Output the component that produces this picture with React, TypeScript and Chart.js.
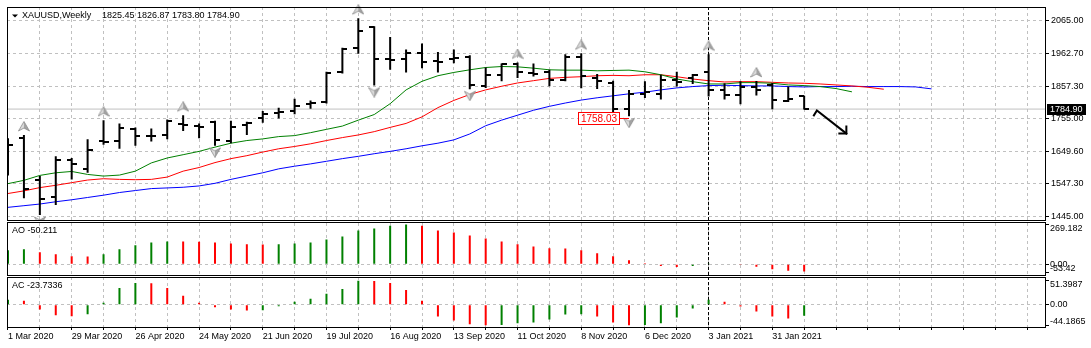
import { useEffect, useRef } from 'react';
import { Chart, registerables } from 'chart.js';

Chart.register(...registerables);

const FONT_FAMILY = '"Liberation Sans", Arial, sans-serif';
Chart.defaults.font.family = FONT_FAMILY;
Chart.defaults.font.size = 9;
Chart.defaults.color = '#000';

// ---------------- data ----------------
const symbol = 'XAUUSD,Weekly';

const weeks = ['1 Mar 2020', '8 Mar 2020', '15 Mar 2020', '22 Mar 2020', '29 Mar 2020', '5 Apr 2020', '12 Apr 2020', '19 Apr 2020', '26 Apr 2020', '3 May 2020', '10 May 2020', '17 May 2020', '24 May 2020', '31 May 2020', '7 Jun 2020', '14 Jun 2020', '21 Jun 2020', '28 Jun 2020', '5 Jul 2020', '12 Jul 2020', '19 Jul 2020', '26 Jul 2020', '2 Aug 2020', '9 Aug 2020', '16 Aug 2020', '23 Aug 2020', '30 Aug 2020', '6 Sep 2020', '13 Sep 2020', '20 Sep 2020', '27 Sep 2020', '4 Oct 2020', '11 Oct 2020', '18 Oct 2020', '25 Oct 2020', '1 Nov 2020', '8 Nov 2020', '15 Nov 2020', '22 Nov 2020', '29 Nov 2020', '6 Dec 2020', '13 Dec 2020', '20 Dec 2020', '27 Dec 2020', '3 Jan 2021', '10 Jan 2021', '17 Jan 2021', '24 Jan 2021', '31 Jan 2021', '7 Feb 2021', '14 Feb 2021'];

const opens = [1586.0, 1692.4, 1560.0, 1506.7, 1624.6, 1595.3, 1684.0, 1684.0, 1722.7, 1700.0, 1702.8, 1737.3, 1731.0, 1743.5, 1685.2, 1734.0, 1755.1, 1772.0, 1779.0, 1802.0, 1806.2, 1901.1, 1979.4, 2044.1, 1944.0, 1942.9, 1961.7, 1936.0, 1945.0, 1951.2, 1859.4, 1892.8, 1929.3, 1899.0, 1901.0, 1877.1, 1950.2, 1884.4, 1868.8, 1786.0, 1834.0, 1833.4, 1876.0, 1883.5, 1903.2, 1847.0, 1830.2, 1854.2, 1861.5, 1812.0, 1825.45];
const highs = [1692.4, 1702.8, 1572.4, 1635.0, 1629.8, 1689.3, 1749.8, 1739.4, 1726.8, 1723.7, 1751.9, 1765.5, 1739.4, 1747.7, 1747.7, 1744.6, 1779.0, 1789.5, 1817.6, 1812.4, 1903.2, 1979.4, 2073.4, 2047.3, 2013.9, 1974.2, 1993.0, 1965.8, 1974.2, 1955.4, 1916.8, 1929.3, 1932.5, 1929.3, 1909.5, 1958.5, 1961.7, 1895.9, 1875.0, 1845.8, 1873.0, 1893.8, 1903.2, 1895.9, 1958.5, 1866.7, 1873.0, 1874.0, 1867.7, 1856.3, 1826.87];
const lows = [1574.5, 1502.4, 1449.2, 1480.5, 1561.9, 1582.8, 1671.5, 1659.0, 1668.4, 1682.0, 1689.3, 1715.4, 1692.4, 1668.4, 1676.7, 1702.8, 1741.4, 1755.1, 1768.6, 1786.3, 1803.0, 1898.0, 1960.6, 1859.4, 1909.5, 1901.0, 1914.7, 1901.0, 1930.4, 1847.9, 1852.1, 1873.0, 1883.4, 1888.6, 1857.3, 1873.0, 1851.0, 1849.0, 1770.7, 1762.3, 1819.7, 1815.6, 1856.3, 1864.6, 1824.9, 1815.6, 1799.9, 1828.1, 1784.2, 1807.2, 1783.8];
const closes = [1671.5, 1530.6, 1499.4, 1622.4, 1611.0, 1653.9, 1682.0, 1723.7, 1699.7, 1698.0, 1747.8, 1733.0, 1729.0, 1687.2, 1729.0, 1741.4, 1770.8, 1775.0, 1794.7, 1804.0, 1898.0, 1976.3, 2033.7, 1945.0, 1942.0, 1961.7, 1935.6, 1934.0, 1947.0, 1862.5, 1892.8, 1927.3, 1901.0, 1897.0, 1877.1, 1950.2, 1888.6, 1873.0, 1786.3, 1833.4, 1838.0, 1878.3, 1872.0, 1893.8, 1846.9, 1830.2, 1854.2, 1845.8, 1812.4, 1817.6, 1784.9];

// Alligator lines (they run past the last bar)
const jaw = [1473.2, 1478.4, 1483.7, 1490.9, 1497.2, 1504.5, 1511.8, 1520.2, 1526.5, 1532.7, 1534.8, 1536.9, 1541.1, 1549.4, 1561.9, 1572.4, 1582.8, 1595.3, 1603.7, 1611.0, 1619.3, 1627.7, 1635.0, 1643.3, 1650.7, 1659.0, 1668.4, 1676.7, 1687.2, 1706.0, 1732.1, 1749.8, 1765.5, 1781.1, 1793.6, 1804.1, 1813.5, 1820.8, 1827.0, 1833.3, 1838.5, 1845.8, 1852.1, 1856.3, 1859.4, 1860.4, 1859.4, 1858.4, 1858.4, 1856.3, 1855.2, 1856.3, 1856.3, 1857.3, 1856.3, 1856.3, 1856.3, 1855.2, 1849.0];
const teeth = [1517.1, 1525.4, 1535.8, 1543.1, 1551.5, 1559.8, 1564.0, 1561.9, 1560.9, 1561.9, 1569.2, 1588.0, 1599.5, 1615.2, 1627.7, 1637.1, 1648.6, 1659.0, 1666.3, 1674.7, 1685.1, 1694.5, 1702.8, 1713.3, 1726.8, 1739.4, 1760.2, 1789.5, 1812.4, 1831.2, 1845.8, 1857.3, 1867.7, 1875.0, 1882.3, 1885.5, 1887.6, 1890.7, 1891.8, 1890.7, 1893.8, 1893.8, 1887.6, 1880.3, 1875.0, 1870.9, 1871.9, 1871.9, 1869.8, 1867.7, 1866.7, 1864.6, 1861.5, 1858.3, 1854.2, 1847.9];
const lips = [1548.4, 1558.8, 1574.5, 1582.8, 1587.0, 1577.6, 1572.4, 1575.5, 1588.0, 1614.1, 1629.8, 1640.2, 1650.7, 1664.2, 1676.7, 1685.1, 1690.3, 1697.6, 1700.8, 1710.1, 1720.6, 1731.0, 1749.8, 1767.6, 1802.0, 1845.8, 1873.0, 1890.7, 1901.1, 1909.5, 1916.8, 1919.9, 1918.9, 1914.7, 1909.5, 1908.4, 1908.4, 1906.4, 1907.4, 1908.4, 1903.2, 1893.8, 1880.3, 1871.9, 1864.6, 1864.6, 1868.8, 1868.8, 1866.7, 1861.5, 1859.4, 1856.3, 1850.0, 1839.6];

const ao = [94, 101, 81, 67, 54, 52, 67, 101, 128, 148, 155, 154, 152, 147, 141, 135, 134, 136, 141, 148, 168, 188, 229, 242, 262, 269.182, 262, 229, 215, 195, 175, 155, 135, 121, 108, 106, 94, 74, 54, 27, 7, -13, -20, -13, 5, 3, -2, -18, -34, -45, -50.211];
const aoColors = 'GGRRRRGGGGGRRRRRRGGGGGGGGGRRRRRRRRRRRRRRRRRGGRRRRRR';
const ac = [10.6, 8.5, -10.6, -22.6, -24.7, -20.4, 4.2, 36.0, 46.5, 46.0, 36.0, 19.0, 4.2, -5.6, -10.6, -12.7, -12.2, -3.5, 6.3, 12.7, 23.3, 33.8, 51.3987, 51.0, 46.5, 31.7, 8.5, -25.4, -33.8, -42.3, -44.1865, -43.6, -40.2, -38.1, -31.7, -21.2, -20.8, -25.4, -38.1, -44.0, -43.5, -40.2, -27.5, -8.5, 10.6, 6.3, -4.2, -14.8, -25.4, -29.6, -23.7336];
const acColors = 'GRRRRGGGGRRRRRRRGGGGGGGRRRRRRRRGGGGGGRRRGGGGGRRRRRG';

const fractalsUp = [1, 6, 11, 22, 32, 36, 44, 47];
const fractalsDown = [2, 13, 23, 29, 39];

const priceTicks = [2065.0, 1962.7, 1857.3, 1755.0, 1649.6, 1547.3, 1445.0];
const aoScaleLabels = [269.182, 0, -53.42];
const acScaleLabels = [51.3987, 0, -44.1865];

const separatorBar = 44;
const priceMark = { bar: 39, price: 1758.03 };
const arrowPath = [{ x: 50.8, y: 1780.8 }, { x: 52.65, y: 1707.4 }];

// visible ranges of the panes
const X_RANGE = { min: -0.0625, max: 65.1875 };
const PRICE_RANGE = { min: 1432.51, max: 2108.73 };
const AO_RANGE = { min: -79.0, max: 299.3 };
const AC_RANGE = { min: -48.0, max: 61.97 };

const GREEN = '#008000';
const RED = '#ff0000';
const BLUE = '#0000ff';
const GRID = '#c0c0c0';

const pts = (arr: number[]) => arr.map((v, i) => ({ x: i, y: v }));
const gridBars = Array.from({ length: 33 }, (_, k) => k * 2);

const fmtScale = (v: number) => (v === 0 ? '0.00' : String(v));

const overlay = {
  id: 'mt4overlay',
  beforeDatasetsDraw(chart: any) {
    const { ctx, chartArea, scales } = chart;
    const x = Math.floor(scales.x.getPixelForValue(separatorBar)) + 0.5;
    ctx.save();
    ctx.strokeStyle = '#000';
    ctx.lineWidth = 1;
    ctx.setLineDash([3, 2]);
    ctx.beginPath();
    ctx.moveTo(x, chartArea.top);
    ctx.lineTo(x, chartArea.bottom);
    ctx.stroke();
    ctx.restore();
  },
  afterDraw(chart: any) {
    const { ctx, chartArea, scales } = chart;
    const xs = scales.x;
    const ys = scales.y;
    const yao = scales.ao;
    const yac = scales.ac;
    const n = closes.length - 1;
    ctx.save();

    // pane frames
    ctx.setLineDash([]);
    ctx.strokeStyle = '#000';
    ctx.lineWidth = 1;
    const L = chartArea.left + 0.5;
    const R = chartArea.right - 0.5;
    const frame = (t: number, b: number) => ctx.strokeRect(L, t, R - L, b - t);
    const mainTop = Math.round(ys.top) + 0.5;
    const mainBottom = Math.floor(ys.bottom) + 0.5;
    const aoTop = Math.floor(yao.top) + 2.5;
    const aoBottom = Math.round(yao.bottom) - 0.5;
    const acTop = Math.round(yac.top) + 1.5;
    const acBottom = Math.round(yac.bottom) + 0.5;
    frame(mainTop, mainBottom);
    frame(aoTop, aoBottom);
    frame(acTop, acBottom);

    // header
    ctx.fillStyle = '#000';
    ctx.beginPath();
    ctx.moveTo(chartArea.left + 5, mainTop + 7);
    ctx.lineTo(chartArea.left + 11, mainTop + 7);
    ctx.lineTo(chartArea.left + 8, mainTop + 10);
    ctx.closePath();
    ctx.fill();
    ctx.font = `9px ${FONT_FAMILY}`;
    ctx.textAlign = 'left';
    ctx.textBaseline = 'middle';
    ctx.fillText(symbol, chartArea.left + 15, mainTop + 8.5);
    ctx.fillText(
      [opens[n], highs[n], lows[n], closes[n]].map((v) => v.toFixed(2)).join(' '),
      chartArea.left + 95,
      mainTop + 8.5
    );

    // indicator names
    ctx.fillText(`AO ${ao[ao.length - 1]}`, chartArea.left + 5, aoTop + 8.5);
    ctx.fillText(`AC ${ac[ac.length - 1]}`, chartArea.left + 5, acTop + 8.5);

    // indicator scale labels
    const lx = chartArea.right + 4;
    const paneLabels = (scale: any, vals: number[]) => {
      const [mx, zero, mn] = vals;
      ctx.textBaseline = 'top';
      ctx.fillText(fmtScale(mx), lx, scale.getPixelForValue(mx) - 1);
      ctx.textBaseline = 'bottom';
      ctx.fillText(fmtScale(mn), lx, scale.getPixelForValue(mn) + 1);
      ctx.textBaseline = 'middle';
      ctx.fillText(fmtScale(zero), lx, scale.getPixelForValue(zero));
    };
    paneLabels(yao, aoScaleLabels);
    paneLabels(yac, acScaleLabels);

    // current price box
    const yc = ys.getPixelForValue(closes[n]);
    ctx.fillStyle = '#000';
    ctx.fillRect(chartArea.right + 1, Math.round(yc) - 5, 39, 11);
    ctx.fillStyle = '#fff';
    ctx.textBaseline = 'middle';
    ctx.fillText(closes[n].toFixed(2), chartArea.right + 4, Math.round(yc) + 0.5);

    // price mark label
    const px = xs.getPixelForValue(priceMark.bar);
    const py = Math.round(ys.getPixelForValue(priceMark.price));
    const bw = 41;
    const bRight = Math.round(px) - 10;
    const bLeft = bRight - bw;
    ctx.fillStyle = '#fff';
    ctx.fillRect(bLeft, py - 5, bw, 12);
    ctx.strokeStyle = RED;
    ctx.strokeRect(bLeft + 0.5, py - 5.5, bw, 12);
    ctx.beginPath();
    ctx.moveTo(bRight, py + 0.5);
    ctx.lineTo(px, py + 0.5);
    ctx.stroke();
    ctx.fillStyle = RED;
    ctx.font = `10px ${FONT_FAMILY}`;
    ctx.textAlign = 'center';
    ctx.fillText(priceMark.price.toFixed(2), bLeft + bw / 2 + 0.5, py + 1);

    // trend arrow
    const a0x = xs.getPixelForValue(arrowPath[0].x);
    const a0y = ys.getPixelForValue(arrowPath[0].y);
    const a1x = xs.getPixelForValue(arrowPath[1].x);
    const a1y = ys.getPixelForValue(arrowPath[1].y);
    ctx.strokeStyle = '#000';
    ctx.lineWidth = 2;
    ctx.lineCap = 'square';
    ctx.beginPath();
    ctx.moveTo(a0x - 3, a0y + 5);
    ctx.lineTo(a0x, a0y);
    ctx.lineTo(a1x, a1y);
    ctx.stroke();
    ctx.beginPath();
    ctx.moveTo(a1x - 7, a1y);
    ctx.lineTo(a1x, a1y);
    ctx.lineTo(a1x, a1y - 7);
    ctx.stroke();

    ctx.restore();
  },
};

export default function App() {
  const canvasRef = useRef<HTMLCanvasElement | null>(null);

  useEffect(() => {
    const prevMargin = document.body.style.margin;
    document.body.style.margin = '0';
    const canvas = canvasRef.current;
    if (!canvas) return;

    const mk = (w: number, h: number, draw: (g: CanvasRenderingContext2D) => void) => {
      const c = document.createElement('canvas');
      c.width = w;
      c.height = h;
      const g = c.getContext('2d');
      if (g) draw(g);
      return c;
    };
    const openTick = mk(10, 2, (g) => {
      g.fillStyle = '#000';
      g.fillRect(0, 0, 5, 2);
    });
    const closeTick = mk(10, 2, (g) => {
      g.fillStyle = '#000';
      g.fillRect(5, 0, 5, 2);
    });
    const chevron = (g: CanvasRenderingContext2D, p: number[][]) => {
      const path = () => {
        g.beginPath();
        g.moveTo(p[0][0], p[0][1]);
        for (let i = 1; i < p.length; i++) g.lineTo(p[i][0], p[i][1]);
        g.closePath();
      };
      path();
      g.fillStyle = '#dcdcdc';
      g.fill();
      g.beginPath();
      g.moveTo(p[0][0], p[0][1]);
      g.lineTo(p[1][0], p[1][1]);
      g.lineTo(p[2][0], p[2][1]);
      g.closePath();
      g.fillStyle = '#a4a4a4';
      g.fill();
      path();
      g.strokeStyle = '#8a8a8a';
      g.lineWidth = 0.8;
      g.stroke();
    };
    const upArrow = mk(12, 28, (g) => chevron(g, [[6, 0.5], [11.5, 10], [6, 7], [0.5, 10]]));
    const downArrow = mk(12, 24, (g) => chevron(g, [[6, 23.5], [11.5, 14], [6, 17], [0.5, 14]]));

    const n = closes.length - 1;

    const datasets: any[] = [
      {
        type: 'scatter', label: 'Fractals up', yAxisID: 'y', order: 0,
        data: fractalsUp.map((i) => ({ x: i, y: highs[i] })),
        pointStyle: upArrow, pointRadius: 6, clip: { left: 0, top: 4, right: 0, bottom: 0 },
      },
      {
        type: 'scatter', label: 'Fractals down', yAxisID: 'y', order: 0,
        data: fractalsDown.map((i) => ({ x: i, y: lows[i] })),
        pointStyle: downArrow, pointRadius: 6,
      },
      {
        type: 'scatter', label: 'Open', yAxisID: 'y', order: 1,
        data: pts(opens), pointStyle: openTick, pointRadius: 5,
      },
      {
        type: 'scatter', label: 'Close', yAxisID: 'y', order: 1,
        data: pts(closes), pointStyle: closeTick, pointRadius: 5,
      },
      {
        type: 'bar', label: 'High-Low', yAxisID: 'y', order: 2,
        data: highs.map((h, i) => ({ x: i, y: [lows[i], h] })),
        backgroundColor: '#000', borderWidth: 0, barThickness: 2, grouped: false, inflateAmount: 0,
      },
      {
        type: 'line', label: 'Lips', yAxisID: 'y', order: 3, data: pts(lips),
        borderColor: GREEN, borderWidth: 1, pointRadius: 0, tension: 0,
      },
      {
        type: 'line', label: 'Teeth', yAxisID: 'y', order: 3, data: pts(teeth),
        borderColor: RED, borderWidth: 1, pointRadius: 0, tension: 0,
      },
      {
        type: 'line', label: 'Jaw', yAxisID: 'y', order: 3, data: pts(jaw),
        borderColor: BLUE, borderWidth: 1, pointRadius: 0, tension: 0,
      },
      {
        type: 'line', label: 'Bid', yAxisID: 'y', order: 5,
        data: [{ x: X_RANGE.min, y: closes[n] }, { x: X_RANGE.max, y: closes[n] }],
        borderColor: GRID, borderWidth: 1, pointRadius: 0,
      },
      {
        type: 'bar', label: 'AO', yAxisID: 'ao', order: 1, data: pts(ao),
        backgroundColor: aoColors.split('').map((c) => (c === 'G' ? GREEN : RED)),
        borderWidth: 0, barThickness: 2, grouped: false, inflateAmount: 0,
      },
      {
        type: 'bar', label: 'AC', yAxisID: 'ac', order: 1, data: pts(ac),
        backgroundColor: acColors.split('').map((c) => (c === 'G' ? GREEN : RED)),
        borderWidth: 0, barThickness: 2, grouped: false, inflateAmount: 0,
      },
    ];

    const zeroPad = (s: any) => {
      s.paddingTop = 0;
      s.paddingBottom = 0;
      s.paddingLeft = 0;
      s.paddingRight = 0;
    };

    const paneAxis = (weight: number, range: any, labels: number[]) => ({
      type: 'linear', position: 'right', axis: 'y', stack: 'mt4', stackWeight: weight,
      min: range.min, max: range.max, bounds: 'data', beginAtZero: false,
      grid: {
        color: (c: any) => (c.tick && c.tick.value === 0 ? GRID : 'rgba(0,0,0,0)'),
        tickColor: '#000', tickLength: 3, drawTicks: true,
      },
      border: { display: false, dash: [3, 3] },
      ticks: { display: false },
      afterBuildTicks: (s: any) => { s.ticks = labels.map((v) => ({ value: v })); },
      afterFit: (s: any) => { s.width = 45; zeroPad(s); },
    });

    const chart = new Chart(canvas, {
      type: 'bar',
      data: { datasets },
      options: {
        responsive: false,
        animation: false,
        devicePixelRatio: 1,
        events: [],
        layout: { padding: { top: 2, left: 2, right: 0, bottom: 0 } },
        plugins: { legend: { display: false }, tooltip: { enabled: false }, title: { display: false } },
        scales: {
          x: {
            type: 'linear', position: 'bottom', min: X_RANGE.min, max: X_RANGE.max,
            offset: false, bounds: 'data',
            grid: { color: GRID, offset: false, drawTicks: true, tickLength: 3, tickColor: '#000' },
            border: { display: false, dash: [3, 3] },
            ticks: {
              autoSkip: false, maxRotation: 0, minRotation: 0, align: 'start', padding: 1, color: '#000',
              callback: (v: any) => (v % 4 === 0 && v < weeks.length ? weeks[v] : ''),
            },
            afterBuildTicks: (s: any) => { s.ticks = gridBars.map((v) => ({ value: v })); },
            afterFit: (s: any) => { s.height = 21; zeroPad(s); },
          },
          y: {
            type: 'linear', position: 'right', axis: 'y', stack: 'mt4', stackWeight: 216.5,
            min: PRICE_RANGE.min, max: PRICE_RANGE.max, bounds: 'data', beginAtZero: false,
            grid: { color: GRID, tickColor: '#000', tickLength: 3, drawTicks: true },
            border: { display: false, dash: [3, 3] },
            ticks: { padding: 2, color: '#000', autoSkip: false, callback: (v: any) => Number(v).toFixed(2) },
            afterBuildTicks: (s: any) => { s.ticks = priceTicks.map((v) => ({ value: v })); },
            afterFit: (s: any) => { s.width = 45; zeroPad(s); },
          },
          ao: paneAxis(56.5, AO_RANGE, aoScaleLabels),
          ac: paneAxis(52, AC_RANGE, acScaleLabels),
        },
      } as any,
      plugins: [overlay],
    } as any);

    return () => {
      chart.destroy();
      document.body.style.margin = prevMargin;
    };
  }, []);

  return (
    <canvas
      ref={canvasRef}
      width={1091}
      height={348}
      style={{ display: 'block', position: 'fixed', left: 0, top: 0, width: 1091, height: 348, background: '#fff' }}
    />
  );
}
